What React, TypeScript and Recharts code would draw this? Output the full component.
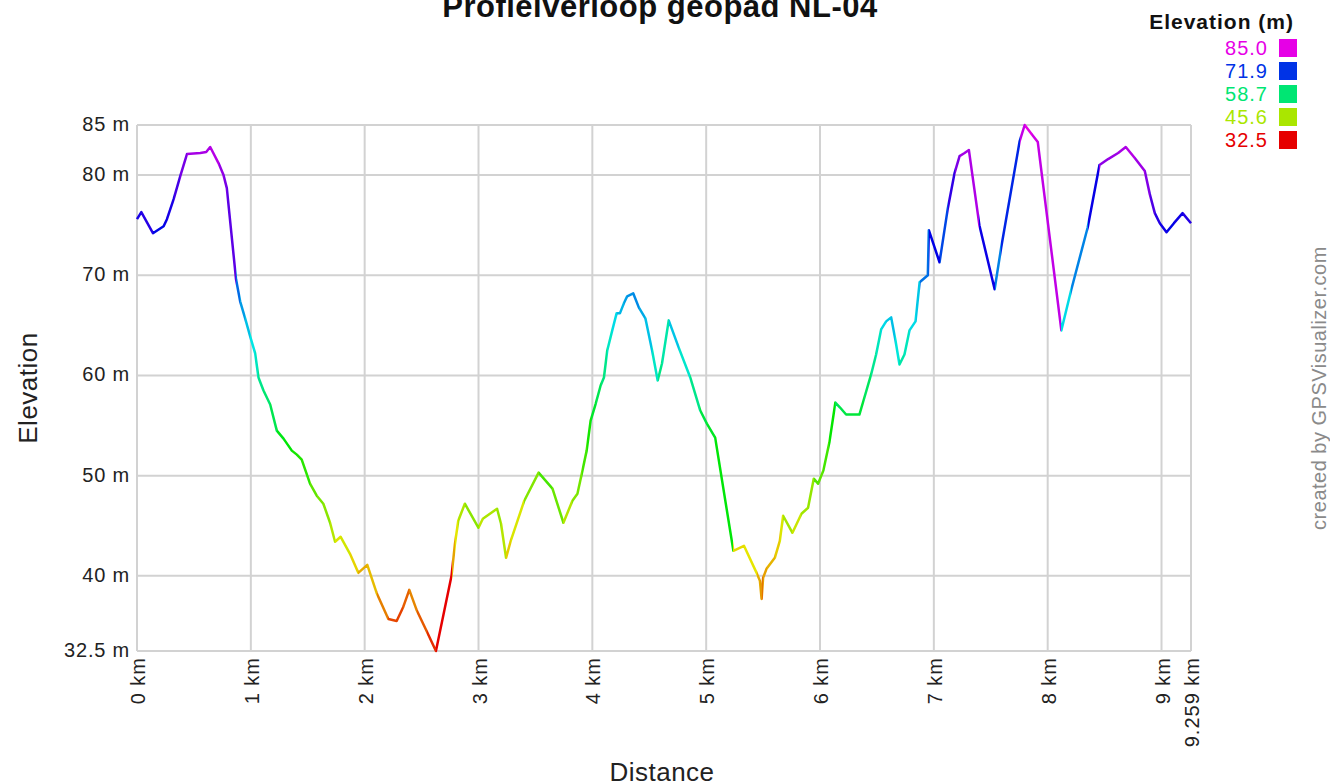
import React from 'react'
import { LineChart, Line, XAxis, YAxis, CartesianGrid } from 'recharts'

// distance along the route (km) and elevation (m)
const distanceKm = [
  0, 0.038, 0.14, 0.234, 0.263, 0.322, 0.38, 0.439, 0.556, 0.608, 0.643, 0.716, 0.76, 0.789,
  0.87, 0.906, 0.95, 0.994, 1.038, 1.067, 1.111, 1.17, 1.228, 1.287, 1.36, 1.404,
  1.447, 1.52, 1.579, 1.637, 1.696, 1.74, 1.789, 1.871, 1.944, 2.023, 2.105, 2.208, 2.281, 2.339,
  2.392, 2.456, 2.544, 2.626, 2.763, 2.792, 2.822, 2.88,
  3.0, 3.038, 3.163, 3.198, 3.242, 3.286, 3.402, 3.528, 3.65, 3.746, 3.825, 3.869, 3.913, 3.95,
  3.985, 4.03, 4.073, 4.102, 4.131, 4.175, 4.213, 4.242, 4.277, 4.306, 4.359, 4.408, 4.466, 4.525,
  4.574, 4.612, 4.671, 4.758, 4.86, 4.948, 5.006, 5.079, 5.239, 5.332, 5.443, 5.472,
  5.487, 5.5, 5.53, 5.603, 5.647, 5.676, 5.758, 5.837, 5.895, 5.945, 5.983,
  6.029, 6.082, 6.135, 6.176, 6.229, 6.346, 6.39, 6.449, 6.493, 6.537, 6.581, 6.625, 6.663, 6.698,
  6.742, 6.786, 6.839, 6.875, 6.947, 6.956, 7.05, 7.123, 7.182, 7.226, 7.27, 7.308,
  7.4, 7.534, 7.592, 7.754, 7.798, 7.865, 7.913, 8.12,
  8.206, 8.352, 8.455, 8.531, 8.619, 8.686, 8.765, 8.853, 8.897, 8.941, 8.985,
  9.044, 9.109, 9.185, 9.259,
]

const elevationM = [
  75.6, 76.3, 74.2, 74.9, 75.6, 77.6, 79.9, 82.1, 82.2, 82.3, 82.8, 81.2, 80.0, 78.7,
  69.6, 67.4, 65.7, 63.9, 62.2, 59.8, 58.5, 57.1, 54.5, 53.7, 52.5, 52.1,
  51.6, 49.2, 48.0, 47.2, 45.3, 43.4, 43.9, 42.2, 40.3, 41.1, 38.3, 35.7, 35.5, 36.9,
  38.6, 36.6, 34.5, 32.5, 40.0, 43.1, 45.5, 47.2,
  44.8, 45.7, 46.7, 45.2, 41.8, 43.6, 47.5, 50.3, 48.7, 45.3, 47.5, 48.2, 50.5, 52.5,
  55.5, 57.2, 59.0, 59.8, 62.5, 64.5, 66.2, 66.2, 67.2, 67.9, 68.2, 66.8, 65.7, 62.5,
  59.5, 61.2, 65.5, 62.8, 59.8, 56.5, 55.2, 53.8, 42.5, 43.0, 40.3, 39.5,
  37.7, 39.8, 40.7, 41.8, 43.5, 46.0, 44.3, 46.2, 46.8, 49.7, 49.2,
  50.5, 53.3, 57.3, 56.8, 56.1, 56.1, 57.8, 60.1, 62.1, 64.6, 65.4, 65.8, 63.5, 61.1,
  62.1, 64.5, 65.4, 69.3, 70.0, 74.5, 71.3, 76.7, 80.2, 81.9, 82.2, 82.5,
  75.0, 68.6, 72.8, 83.4, 85.0, 84.0, 83.3, 64.5,
  68.5, 74.8, 81.0, 81.6, 82.2, 82.8, 81.7, 80.4, 78.1, 76.2, 75.2,
  74.3, 75.2, 76.2, 75.2,
]

const xTicks = [0, 1, 2, 3, 4, 5, 6, 7, 8, 9, 9.259]
const yTicks = [32.5, 40, 50, 60, 70, 80, 85]

const legendValues = ['85.0', '71.9', '58.7', '45.6', '32.5']
const legendColors = ['#e600e6', '#0033e6', '#00e673', '#aae600', '#e60000']

const data = distanceKm.map((km, i) => ({ km, ele: elevationM[i] }))

const FONT = '"Liberation Sans", Arial, sans-serif'
const MIN_ELE = 32.5
const MAX_ELE = 85
const TOTAL_KM = 9.259

// hue runs red (low) -> magenta (high), like the legend
function elevColor(m: number) {
  const h = (300 * (m - MIN_ELE)) / (MAX_ELE - MIN_ELE)
  const v = 230
  const f = (n: number) => {
    const k = (n + h / 60) % 6
    return Math.round(v - v * Math.max(0, Math.min(k, 4 - k, 1)))
  }
  return `rgb(${f(5)},${f(3)},${f(1)})`
}

// each track segment takes the colour of the point it starts from
const gradientStops = distanceKm.slice(0, -1).flatMap((km, i) => [
  { offset: km / TOTAL_KM, color: elevColor(elevationM[i]) },
  { offset: distanceKm[i + 1] / TOTAL_KM, color: elevColor(elevationM[i]) },
])

function XTick(props: any) {
  const { x, y, payload } = props
  return (
    <text
      x={x + 8}
      y={y - 2}
      transform={`rotate(-90 ${x + 8} ${y - 2})`}
      textAnchor="end"
      fontFamily={FONT}
      fontSize={20}
      letterSpacing={1}
      fill="#222"
    >
      {`${payload.value} km`}
    </text>
  )
}

function YTick(props: any) {
  const { y, payload } = props
  return (
    <text x={130} y={y + 6} textAnchor="end" fontFamily={FONT} fontSize={20} letterSpacing={0.8} fill="#222">
      {`${payload.value} m`}
    </text>
  )
}

export default function App() {
  return (
    <div style={{ position: 'absolute', left: 0, top: 0, width: 1330, height: 784, background: '#fff', overflow: 'hidden' }}>
      <LineChart width={1330} height={784} data={data} margin={{ top: 125, right: 139, bottom: 33, left: 77 }}>
        <defs>
          <linearGradient id="elevGrad" x1="0" y1="0" x2="1" y2="0">
            {gradientStops.map((s, i) => (
              <stop key={i} offset={s.offset} stopColor={s.color} />
            ))}
          </linearGradient>
        </defs>
        <CartesianGrid stroke="#d2d2d2" strokeWidth={2} />
        <XAxis
          dataKey="km"
          type="number"
          domain={[0, TOTAL_KM]}
          ticks={xTicks}
          interval={0}
          height={100}
          axisLine={false}
          tickLine={false}
          tick={<XTick />}
        />
        <YAxis
          type="number"
          domain={[MIN_ELE, MAX_ELE]}
          ticks={yTicks}
          interval={0}
          width={60}
          axisLine={false}
          tickLine={false}
          tick={<YTick />}
        />
        <Line
          type="linear"
          dataKey="ele"
          stroke="url(#elevGrad)"
          strokeWidth={2.5}
          strokeLinejoin="round"
          dot={false}
          activeDot={false}
          isAnimationActive={false}
        />
      </LineChart>
      <svg width={1330} height={784} style={{ position: 'absolute', left: 0, top: 0, pointerEvents: 'none' }}>
        <text x={660} y={17} textAnchor="middle" fontFamily={FONT} fontSize={31} fontWeight="bold" letterSpacing={0.5} fill="#111">
          Profielverloop geopad NL-04
        </text>
        <text x={1294} y={29} textAnchor="end" fontFamily={FONT} fontSize={21} fontWeight="bold" letterSpacing={1} fill="#111">
          Elevation (m)
        </text>
        {legendValues.map((v, i) => (
          <g key={v}>
            <text x={1268} y={55 + i * 23} textAnchor="end" fontFamily={FONT} fontSize={20} letterSpacing={1} fill={legendColors[i]}>
              {v}
            </text>
            <rect x={1279} y={39 + i * 23} width={18} height={18} fill={legendColors[i]} />
          </g>
        ))}
        <text x={37} y={388} transform="rotate(-90 37 388)" textAnchor="middle" fontFamily={FONT} fontSize={26} letterSpacing={0.5} fill="#222">
          Elevation
        </text>
        <text x={662} y={781} textAnchor="middle" fontFamily={FONT} fontSize={26} letterSpacing={0.5} fill="#222">
          Distance
        </text>
        <text x={1326} y={388} transform="rotate(-90 1326 388)" textAnchor="middle" fontFamily={FONT} fontSize={20} letterSpacing={0.5} fill="#8a8a8a">
          created by GPSVisualizer.com
        </text>
      </svg>
    </div>
  )
}
